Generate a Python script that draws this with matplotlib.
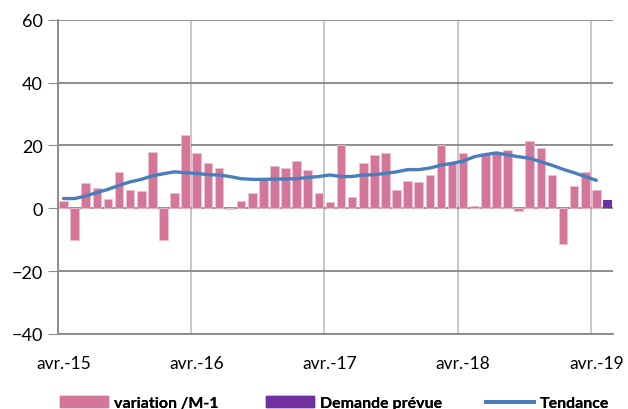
import numpy as np
import matplotlib
matplotlib.use('Agg')
import matplotlib.pyplot as plt
from matplotlib.patches import Patch
from matplotlib.lines import Line2D

# monthly data, avr.-15 .. avr.-19 (49 months) + forecast for mai-19
variation = [2.3, -10.0, 8.1, 6.5, 3.1, 11.6, 5.8, 5.4, 18.0, -10.0, 4.8, 23.2,
             17.5, 14.5, 12.8, -0.3, 2.4, 4.8, 8.9, 13.3, 12.8, 15.1, 12.3, 4.8,
             1.9, 20.1, 3.6, 14.5, 16.8, 17.5, 5.9, 8.8, 8.3, 10.6, 20.2, 14.8,
             17.5, 0.6, 17.4, 17.7, 18.5, -1.0, 21.5, 19.2, 10.5, -11.3, 7.0, 11.6,
             5.9]
tendance = [3.1, 3.1, 3.9, 5.0, 6.0, 7.3, 8.4, 9.2, 10.3, 11.0, 11.6, 11.3,
            11.1, 10.7, 10.6, 10.1, 9.4, 9.2, 9.2, 9.3, 9.3, 9.4, 9.8, 10.1,
            10.6, 10.1, 10.1, 10.6, 10.7, 11.1, 11.6, 12.3, 12.3, 12.8, 13.7, 14.3,
            15.0, 16.4, 17.1, 17.6, 17.0, 16.4, 15.9, 14.8, 13.7, 12.4, 11.3, 10.1,
            8.9]
demande_prevue = 2.5
tick_labels = ['avr.-15', 'avr.-16', 'avr.-17', 'avr.-18', 'avr.-19']

PINK, PURPLE, BLUE = '#d4769a', '#7030a0', '#4a7ebb'
plt.rcParams['font.family'] = ['Lato', 'DejaVu Sans']

fig = plt.figure(figsize=(6.28, 4.10), dpi=100)
ax = fig.add_axes([58/628, 1-335/410, (613-58)/628, (335-20.7)/410])

x = np.arange(len(variation))
ax.bar(x, variation, width=0.78, color=PINK, edgecolor='#f0c0d2', lw=0.6, zorder=3)
ax.bar([len(variation)], [demande_prevue], width=0.78, color=PURPLE, zorder=3)
ax.plot(x, tendance, color=BLUE, lw=2.4, zorder=4, solid_capstyle='round')

ax.set_xlim(-0.5, len(variation) + 0.5)
ax.set_ylim(-40, 60)
ax.set_yticks(range(-40, 61, 20))
ax.tick_params(axis='y', labelsize=13, length=7, color='#8c8c8c', pad=4)

# gridlines between categories, labels centred on the month
ax.set_xticks(np.arange(-0.5, len(variation), 12))
ax.set_xticklabels([])
ax.set_xticks(np.arange(0, len(variation), 12), minor=True)
ax.set_xticklabels(tick_labels, minor=True)
ax.tick_params(axis='x', which='major', length=0)
ax.tick_params(axis='x', which='minor', length=0, labelsize=12.5, pad=15)
ax.grid(axis='x', which='major', color='#c4c4c4', lw=1.3, zorder=0)
ax.grid(axis='y', color='#878787', lw=1.3, zorder=1)

for s in ['top', 'right']:
    ax.spines[s].set_visible(False)
for s in ['left', 'bottom']:
    ax.spines[s].set_color('#878787')
    ax.spines[s].set_linewidth(1.3)

# legend entries placed one by one, like the spreadsheet did
entries = [(Patch(color=PINK), 'variation /M-1', 60),
           (Patch(color=PURPLE), 'Demande prévue', 266),
           (Line2D([], [], color=BLUE, lw=2.8), 'Tendance', 486)]
for h, lab, px in entries:
    leg = fig.legend([h], [lab], loc='center left', bbox_to_anchor=(px/628, 1-404/410),
                     frameon=False, borderpad=0, borderaxespad=0,
                     prop={'weight': 'bold', 'size': 11.5}, handlelength=3.0,
                     handleheight=0.62, handletextpad=0.35)
    fig.add_artist(leg)

fig.savefig('out.png', dpi=100)
